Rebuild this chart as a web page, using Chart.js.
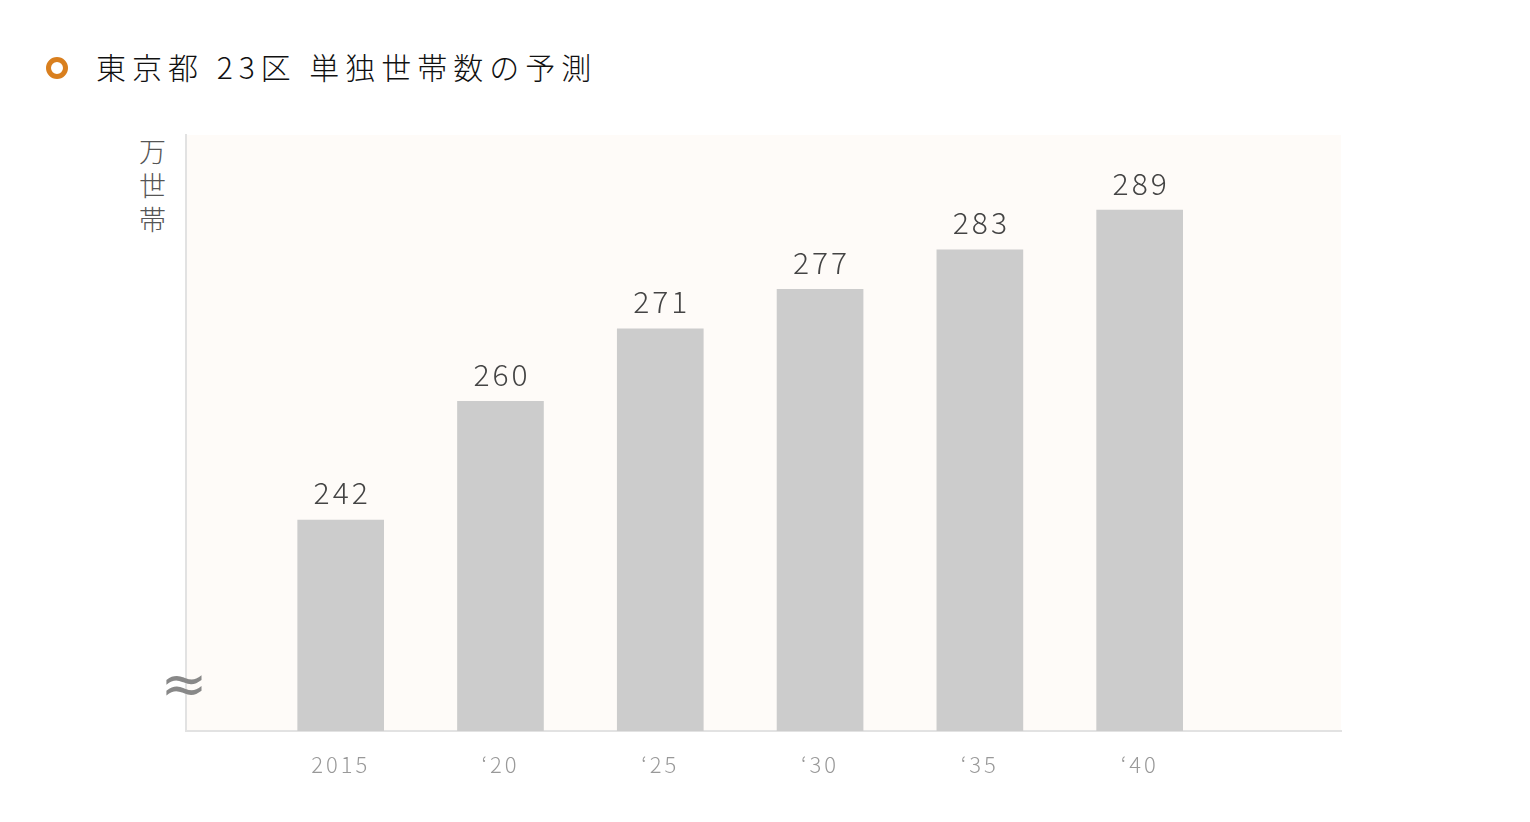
<!DOCTYPE html>
<html>
<head>
<meta charset="utf-8">
<script src="https://cdn.jsdelivr.net/npm/chart.js@4.4.1/dist/chart.umd.min.js"></script>
<style>
  html, body { margin: 0; padding: 0; background: #fff; }
  #wrap { position: relative; width: 1530px; height: 822px; }
  #title { position: absolute; left: 46px; top: 44px; font-family: "Noto Sans CJK JP", sans-serif; font-weight: 300;
           font-size: 30px; letter-spacing: 6px; color: #111; white-space: nowrap; line-height: 44px; }
  #title .dot { display: inline-block; width: 12px; height: 12px; border: 5px solid #d97f1e; border-radius: 50%;
                vertical-align: middle; margin-right: 28px; position: relative; top: -3px; }
  #unit { position: absolute; left: 137px; top: 138px; writing-mode: vertical-rl; font-family: "Noto Sans CJK JP", sans-serif;
          font-size: 27px; color: #555; letter-spacing: 7px; line-height: 30px; font-weight: 300; }
  canvas { position: absolute; left: 0; top: 0; }
</style>
</head>
<body>
<div id="wrap">
  <div id="title"><span class="dot"></span>東京都 23区 単独世帯数の予測</div>
  <div id="unit">万世帯</div>
  <canvas id="c" width="1530" height="822"></canvas>
</div>
<script>
var years = [2015, 2020, 2025, 2030, 2035, 2040];
var xLabels = ['2015', '‘20', '‘25', '‘30', '‘35', '‘40'];
var households = [242, 260, 271, 277, 283, 289];

// plot area background + break mark + value labels
var decor = {
    id: 'decor',
    beforeDraw: function(chart) {
        var a = chart.chartArea, ctx = chart.ctx;
        ctx.save();
        ctx.fillStyle = '#fefbf8';
        ctx.fillRect(a.left, a.top, a.right - a.left, a.bottom - a.top);
        ctx.restore();
    },
    afterDatasetsDraw: function(chart) {
        var ctx = chart.ctx;
        var meta = chart.getDatasetMeta(0);
        ctx.save();
        ctx.letterSpacing = '3px';
        ctx.font = '300 30px "Noto Sans CJK JP", sans-serif';
        ctx.fillStyle = '#444';
        ctx.textAlign = 'center';
        ctx.textBaseline = 'bottom';
        meta.data.forEach(function(bar, i) {
            ctx.fillText(String(households[i]), bar.x + 1.5, bar.y - 12);
        });
        // axis break mark
        ctx.letterSpacing = '0px';
        ctx.font = '56px "DejaVu Sans", sans-serif';
        ctx.fillStyle = '#888';
        ctx.textBaseline = 'middle';
        ctx.fillText('≈', chart.chartArea.left - 2, 688);
        ctx.restore();
    }
};

var spacing = {
    id: 'spacing',
    beforeDraw: function(chart) { chart.ctx.letterSpacing = '3px'; }
};

new Chart(document.getElementById('c'), {
    type: 'bar',
    data: {
        datasets: [{
            data: years.map(function(y, i) { return {x: y, y: households[i]}; }),
            backgroundColor: '#cccccc',
            barThickness: 86
        }]
    },
    options: {
        responsive: false,
        animation: false,
        layout: { padding: { left: 186, right: 189, top: 135, bottom: 0 } },
        plugins: { legend: { display: false }, tooltip: { enabled: false } },
        scales: {
            x: {
                type: 'linear',
                offset: false,
                min: 2010.16,
                max: 2046.3,
                afterBuildTicks: function(scale) {
                    scale.ticks = years.map(function(y) { return {value: y}; });
                },
                afterFit: function(scale) { scale.height = 91; },
                ticks: {
                    autoSkip: false,
                    maxRotation: 0,
                    padding: 20,
                    color: '#999',
                    font: { size: 22, weight: '300', family: '"Noto Sans CJK JP", sans-serif' },
                    callback: function(v) { return xLabels[years.indexOf(v)]; }
                },
                grid: { display: false, drawTicks: false },
                border: { color: '#e2e2e2', width: 2 }
            },
            y: {
                min: 210,
                max: 300.4,
                afterFit: function(scale) { scale.width = 0; },
                ticks: { display: false },
                grid: { display: false, drawTicks: false },
                border: { color: '#e2e2e2', width: 2 }
            }
        }
    },
    plugins: [spacing, decor]
});
</script>
</body>
</html>
